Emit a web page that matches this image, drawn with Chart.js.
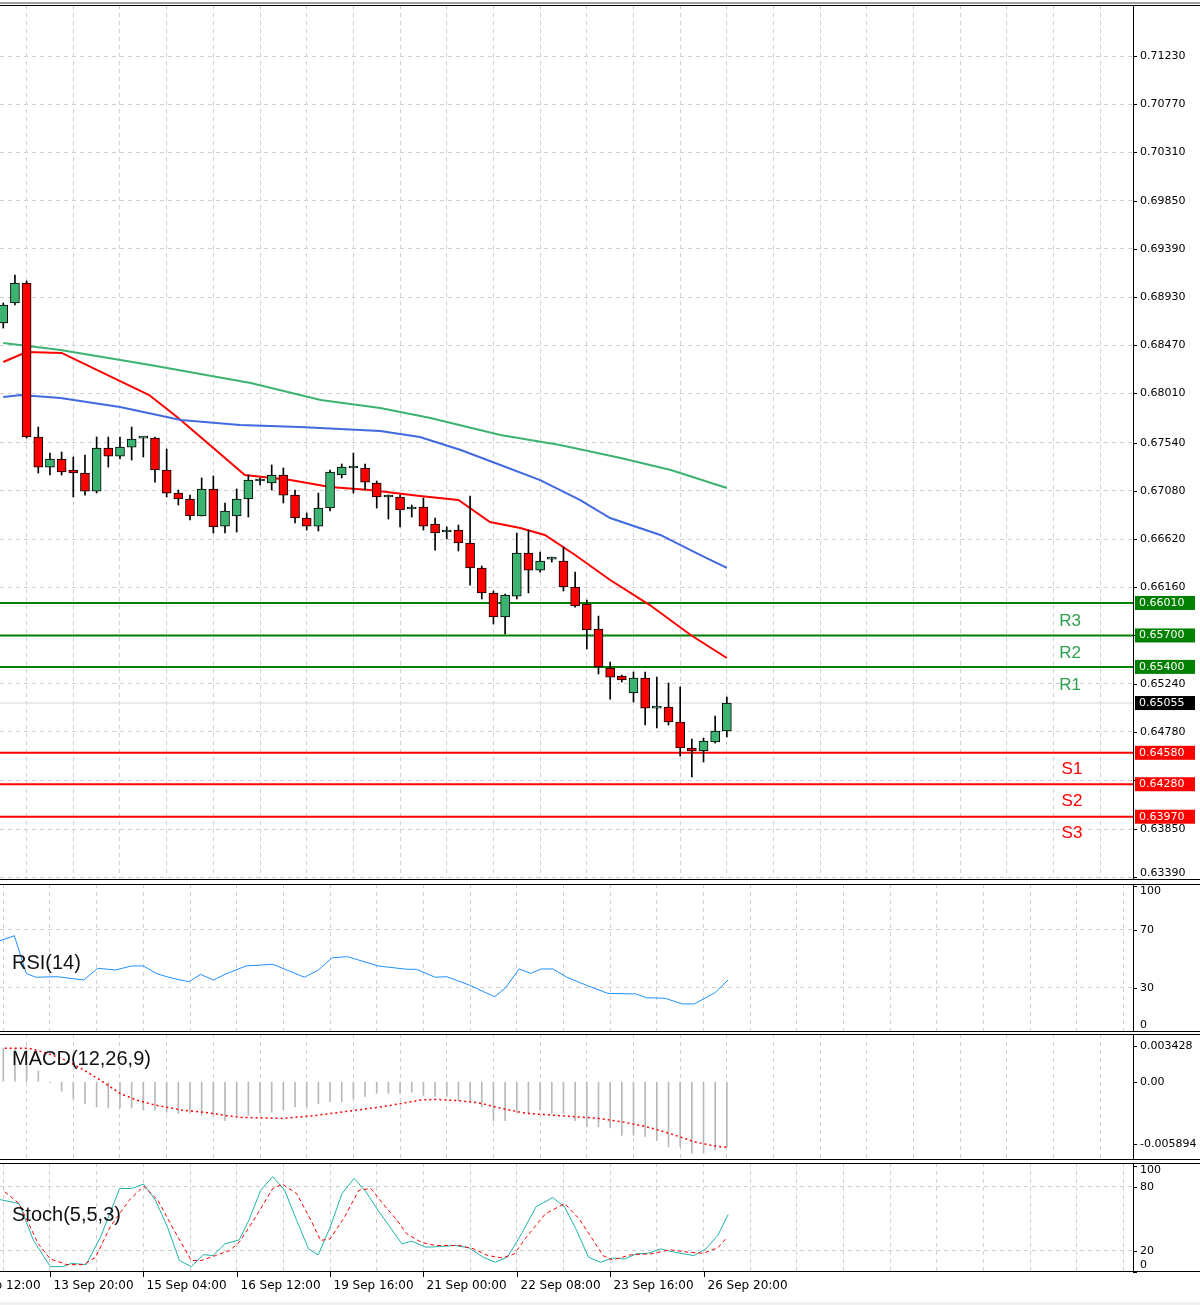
<!DOCTYPE html>
<html><head><meta charset="utf-8">
<script src="https://cdn.jsdelivr.net/npm/chart.js@4.4.0/dist/chart.umd.min.js"></script>
<style>
html,body{margin:0;padding:0;background:#fff;width:1200px;height:1305px;overflow:hidden;}
.c{position:absolute;left:0;width:1200px;overflow:hidden;}
canvas{display:block;}
#topline{position:absolute;left:0;top:2px;width:1200px;height:2px;background:#a0a0a0;}
</style></head><body>
<div id="topline"></div>
<div class="c" style="top:5px;height:875px"><canvas id="main" width="1200" height="875"></canvas></div>
<div class="c" style="top:884px;height:148px"><canvas id="rsi" width="1200" height="148"></canvas></div>
<div class="c" style="top:1034px;height:126px"><canvas id="macd" width="1200" height="126"></canvas></div>
<div class="c" style="top:1163px;height:142px"><canvas id="stoch" width="1200" height="142"></canvas></div>
<script>
// ---------- DATA ----------
const opens=[0.68682,0.68873,0.69064,0.67594,0.67307,0.67384,0.67279,0.67250,0.67078,0.67489,
0.67412,0.67498,0.67584,0.67584,0.67279,0.67059,0.67002,0.66840,0.67098,0.66744,
0.66840,0.67002,0.67174,0.67155,0.67231,0.67040,0.66821,0.66744,0.66916,0.67231,
0.67298,0.67298,0.67155,0.67021,0.67021,0.66907,0.66926,0.66763,0.66687,0.66706,
0.66582,0.66344,0.66105,0.65876,0.66076,0.66487,0.66324,0.66429,0.66410,0.66162,
0.66000,0.65761,0.65389,0.65313,0.65151,0.65294,0.65007,0.65017,0.64874,0.64626,
0.64597,0.64683,0.64788];
const closes=[0.68854,0.69064,0.67594,0.67307,0.67384,0.67260,0.67250,0.67078,0.67489,0.67412,
0.67498,0.67575,0.67584,0.67279,0.67059,0.67002,0.66840,0.67098,0.66735,0.66888,
0.67002,0.67183,0.67174,0.67231,0.67040,0.66821,0.66744,0.66916,0.67260,0.67307,
0.67298,0.67164,0.67021,0.67021,0.66897,0.66926,0.66744,0.66678,0.66687,0.66582,
0.66344,0.66105,0.65876,0.66086,0.66487,0.66324,0.66410,0.66429,0.66162,0.65981,
0.65752,0.65399,0.65303,0.65275,0.65294,0.65007,0.65007,0.64874,0.64626,0.64597,
0.64692,0.64788,0.65055];
const highs=[0.68873,0.69140,0.69083,0.67689,0.67441,0.67451,0.67403,0.67422,0.67594,0.67594,
0.67594,0.67689,0.67594,0.67594,0.67479,0.67088,0.67040,0.67203,0.67222,0.66964,
0.67098,0.67231,0.67203,0.67327,0.67298,0.67088,0.66869,0.67059,0.67279,0.67336,
0.67441,0.67336,0.67174,0.67040,0.67040,0.66945,0.67012,0.66821,0.66735,0.66754,
0.67031,0.66363,0.66124,0.66095,0.66678,0.66706,0.66496,0.66448,0.66544,0.66305,
0.66038,0.65885,0.65446,0.65322,0.65351,0.65351,0.65303,0.65246,0.65208,0.64712,
0.64721,0.64931,0.65112];
const lows=[0.68634,0.68854,0.67584,0.67250,0.67231,0.67231,0.67021,0.67040,0.67059,0.67307,
0.67384,0.67374,0.67403,0.67164,0.67021,0.66945,0.66802,0.66840,0.66678,0.66678,
0.66687,0.66830,0.67136,0.67088,0.66964,0.66774,0.66706,0.66697,0.66888,0.67203,
0.67059,0.67088,0.66916,0.66811,0.66735,0.66830,0.66706,0.66515,0.66620,0.66506,
0.66181,0.66048,0.65809,0.65714,0.66048,0.66105,0.66305,0.66400,0.66124,0.65971,
0.65570,0.65332,0.65093,0.65255,0.65065,0.64845,0.64817,0.64845,0.64549,0.64349,
0.64492,0.64673,0.64731];
// moving averages: [candle index, value]
const maRed=[[0,0.68310],[2,0.68405],[5,0.68396],[12.5,0.67995],[15,0.67775],[20.7,0.67231],[24.6,0.67183],[28,0.67117],[31.4,0.67088],[35.7,0.67031],[39,0.66993],[41.7,0.66783],[44.3,0.66725],[46.4,0.66659],[49,0.66468],[52,0.66229],[55.4,0.65990],[58.9,0.65704],[62,0.65485]];
const maGreen=[[0,0.68491],[4.9,0.68424],[12.6,0.68281],[21.2,0.68109],[27.2,0.67947],[32.3,0.67870],[36.6,0.67775],[42.6,0.67613],[47.7,0.67517],[52.9,0.67393],[57.2,0.67279],[62,0.67107]];
const maBlue=[[0,0.67976],[1.5,0.67995],[4.9,0.67966],[10,0.67880],[15.2,0.67756],[20.3,0.67708],[25.4,0.67689],[32.3,0.67651],[35.7,0.67594],[39.2,0.67470],[42.6,0.67327],[46,0.67183],[49.4,0.66993],[52,0.66821],[56.3,0.66659],[59.7,0.66468],[62,0.66344]];
const resistances=[0.66010,0.65700,0.65400];
const resNames=["R3","R2","R1"];
const supports=[0.64580,0.64280,0.63970];
const supNames=["S1","S2","S3"];
const currentPrice=0.65055;
const priceTicks=[0.71230,0.70770,0.70310,0.69850,0.69390,0.68930,0.68470,0.68010,0.67540,0.67080,0.66620,0.66160,0.65700,0.65240,0.64780,0.64320,0.63850,0.63390];
const rsiPts=[[-0.28,62.6],[0.95,66],[1.97,40],[2.8,37.4],[4.6,37.8],[6.9,35.5],[8.1,43.6],[9.6,42.4],[11,45.2],[12,45.2],[13.2,39.7],[14.5,36.7],[15.9,34.3],[16.9,39.4],[18,35.5],[19,39.4],[20.8,45.2],[23.1,46.3],[24.3,42.4],[25.8,37.4],[27,42.4],[28.2,50.9],[29.5,51.6],[32.1,45.2],[34.6,42.9],[35.4,42.9],[37,37.4],[38,37.8],[39.9,32.1],[42.1,24],[43,29.8],[44.2,43.1],[45.2,40.1],[46.1,43.1],[47.1,43.1],[48.3,37.4],[49.9,32.1],[51.8,26.3],[54.2,25.9],[55.1,23.3],[56.7,22.9],[58.2,19],[59.2,19],[61,26.8],[62.1,35.5]];
const rsiTicks=[100,70,30,0];
const macdHist=[0.0032,0.0032,0.0030,0.0010,-0.0001,-0.0009,-0.0016,-0.0021,-0.0024,-0.0025,
-0.0025,-0.0025,-0.0027,-0.0027,-0.0029,-0.0030,-0.0030,-0.0032,-0.0032,-0.0037,
-0.0033,-0.0032,-0.0030,-0.0029,-0.0027,-0.0024,-0.0024,-0.0021,-0.0019,-0.0019,
-0.0016,-0.0014,-0.0011,-0.0011,-0.0011,-0.0010,-0.0013,-0.0014,-0.0014,-0.0018,
-0.0018,-0.0024,-0.0037,-0.0037,-0.0030,-0.0030,-0.0027,-0.0030,-0.0030,-0.0037,
-0.0043,-0.0043,-0.0044,-0.0051,-0.0051,-0.0052,-0.0056,-0.0062,-0.0062,-0.0068,
-0.0068,-0.0065,-0.0062];
const macdSignal=[[0.13,0.00318],[2.2,0.00318],[3.8,0.00270],[5.3,0.00207],[6.9,0.00111],[8.3,0.00016],[10,-0.00111],[11.4,-0.00174],[13,-0.00222],[15.3,-0.00270],[17.3,-0.00292],[20.2,-0.00339],[23.9,-0.00349],[26.4,-0.00326],[29.2,-0.00286],[32.5,-0.00238],[35.8,-0.00174],[37,-0.00168],[39.1,-0.00181],[40.7,-0.00200],[42.7,-0.00254],[44.8,-0.00301],[48.1,-0.00326],[51,-0.00349],[53,-0.00381],[55.1,-0.00428],[57.1,-0.00492],[59.2,-0.00571],[60.8,-0.00609],[62,-0.00625]];
const macdTicks=[0.003428,0,-0.005894];
const stochMain=[[-0.28,68],[1.36,64.2],[2.59,29.5],[4.03,4.9],[5.05,4.9],[5.87,8],[7.1,6.8],[8.33,32.7],[9.97,78.4],[10.99,78.4],[12.02,82.5],[13.04,67.4],[14.07,42.1],[15.1,10.6],[16.12,4.9],[17.15,16.2],[17.97,15.3],[18.99,26.3],[20.22,30.1],[21.04,48.4],[22.06,76.8],[23.09,89.5],[24.11,76.8],[25.14,48.4],[26.16,21.6],[26.98,15.9],[28.01,42.1],[29.03,73.7],[30.06,87.9],[31.08,75.3],[32.11,57.9],[33.14,42.1],[34.16,26.3],[34.98,28.9],[36.21,23.2],[37.44,23.8],[38.67,24.8],[39.9,22.6],[41.13,13.7],[42.16,9],[43.18,13.7],[44.41,35.8],[45.64,61.1],[47.08,69.9],[48.1,61.1],[49.13,39],[50.15,13.7],[51.18,9],[52.2,13.1],[53.23,12.1],[54.25,16.9],[55.28,17.5],[56.3,21.6],[57.53,18.4],[59.17,15.3],[60.2,21.6],[61.22,34.2],[62.12,54.1]];
const stochSignal=[[0.13,75.3],[1.36,64.2],[3,26.3],[4.03,12.1],[5.46,6.8],[6.9,6.8],[7.92,13.7],[9.15,42.1],[10.79,67.4],[12.02,80.6],[13.25,67.4],[14.48,42.1],[16.12,10.6],[16.94,10.6],[18.17,15.3],[19.4,20],[20.22,27.9],[21.45,48.4],[23.09,78.4],[23.91,82.5],[25.14,73.7],[26.37,48.4],[27.19,29.5],[28.01,31.1],[29.24,51.6],[30.47,76.8],[31.5,78.4],[32.52,64.2],[33.75,48.4],[34.57,35.8],[35.8,27.9],[37.03,24.8],[39.08,24.8],[40.31,21.6],[41.54,15.3],[42.77,13.1],[43.8,16.9],[44.82,32.7],[46.46,54.7],[48.1,64.2],[49.33,50],[50.56,29.5],[51.38,15.3],[52.2,11.2],[53.84,16.2],[55.48,16.9],[57.12,20.7],[58.76,18.4],[59.99,17.5],[61.22,22.6],[62.04,32.7]];
const stochTicks=[100,80,20,0];
const timeLabels=["13 Sep 12:00","13 Sep 20:00","15 Sep 04:00","16 Sep 12:00","19 Sep 16:00","21 Sep 00:00","22 Sep 08:00","23 Sep 16:00","26 Sep 20:00"];
const timeIdx=[-4,4,12,20,28,36,44,52,60];

// ---------- HELPERS ----------
const XMIN=-0.28, XMAX=96.8;
const GREEN='#3CB371', RED='#FF0000';
const FONT='"DejaVu Sans", sans-serif';
function xScale(){return {type:'linear',min:XMIN,max:XMAX,offset:false,
  afterBuildTicks:s=>{const t=[];for(let v=0;v<=96;v+=4)t.push({value:v});s.ticks=t;},
  ticks:{display:false},grid:{color:'#cfcfcf',drawTicks:false},border:{display:false,dash:[4,4]},
  afterFit:s=>{s.height=0;}};}
function yScale(min,max,ticks,gridTicks){return {type:'linear',position:'right',min:min,max:max,
  afterBuildTicks:s=>{s.ticks=ticks.map(v=>({value:v}));},
  afterFit:s=>{s.width=67;},
  ticks:{display:false},
  grid:{color:c=>(gridTicks&&!gridTicks.includes(c.tick&&c.tick.value))?'rgba(0,0,0,0)':'#cfcfcf',drawTicks:false},
  border:{display:false,dash:[4,4]}};}
function pts(a){return a.map(p=>({x:p[0],y:p[1]}));}
const frame={id:'frame',afterDraw(ch,args,opts){
  const c=ch.ctx,a=ch.chartArea,y=ch.scales.y;
  c.save();
  c.strokeStyle='#000';c.lineWidth=1;
  c.beginPath();c.moveTo(a.right+0.5,a.top);c.lineTo(a.right+0.5,a.bottom);c.stroke();
  c.beginPath();c.moveTo(0,a.top+0.5);c.lineTo(1200,a.top+0.5);c.stroke();
  c.beginPath();c.moveTo(0,a.bottom-0.5);c.lineTo(1200,a.bottom-0.5);c.stroke();
  c.font='11px '+FONT;c.fillStyle='#000';c.textBaseline='middle';c.textAlign='left';
  (opts.ticks||[]).forEach(v=>{const py=Math.round(y.getPixelForValue(v))+0.5;
    c.beginPath();c.moveTo(a.right,py);c.lineTo(a.right+4,py);c.stroke();
    if(opts.hide&&opts.hide.includes(v))return;
    let py2=Math.min(Math.max(py,a.top+7),a.bottom-7);
    c.fillText(opts.fmt(v),a.right+7,py2);});
  if(opts.title){c.font='20px "Liberation Sans", Arial, sans-serif';c.fillStyle='#111';c.textBaseline='alphabetic';
    c.fillText(opts.title,12,opts.titleY);}
  c.restore();}};
const common={responsive:false,animation:false,maintainAspectRatio:false,devicePixelRatio:1,
  plugins:{legend:{display:false},tooltip:{enabled:false}},layout:{padding:0}};

// ---------- MAIN ----------
const idx=opens.map((_,i)=>i);
const bodyColors=opens.map((o,i)=>closes[i]>=o?GREEN:RED);
const levelPlugin={id:'levels',afterDraw(ch){
  const c=ch.ctx,a=ch.chartArea,y=ch.scales.y;c.save();
  c.font='11px '+FONT;c.textBaseline='middle';c.textAlign='left';
  const box=(v,bg)=>{const py=y.getPixelForValue(v);c.fillStyle=bg;c.fillRect(a.right+2,py-7,60,14);
    c.fillStyle='#fff';c.fillText(v.toFixed(5),a.right+6,py);};
  resistances.forEach(v=>box(v,'#008000'));supports.forEach(v=>box(v,RED));box(currentPrice,'#000');
  c.font='17px "Liberation Sans", Arial, sans-serif';c.textAlign='center';
  resistances.forEach((v,i)=>{c.fillStyle='#2E9E4F';c.fillText(resNames[i],1070,y.getPixelForValue(v)+18);});
  supports.forEach((v,i)=>{c.fillStyle=RED;c.fillText(supNames[i],1072,y.getPixelForValue(v)+17);});
  c.restore();}};
function hline(v,color,w){return {type:'line',data:[{x:XMIN,y:v},{x:XMAX,y:v}],borderColor:color,borderWidth:w,pointRadius:0,order:5};}
new Chart(document.getElementById('main'),{type:'bar',
  data:{datasets:[
    hline(currentPrice,'#d8d8d8',1),
    ...resistances.map(v=>hline(v,'#008000',2)),
    ...supports.map(v=>hline(v,RED,2)),
    {type:'line',data:pts(maGreen),borderColor:GREEN,borderWidth:2,pointRadius:0,order:3},
    {type:'line',data:pts(maBlue),borderColor:'#4169E1',borderWidth:2,pointRadius:0,order:3},
    {type:'line',data:pts(maRed),borderColor:RED,borderWidth:2,pointRadius:0,order:3},
    {data:idx.map(i=>({x:i,y:[lows[i],highs[i]]})),backgroundColor:'#000',barThickness:1,grouped:false,order:2},
    {data:idx.map(i=>({x:i,y:[opens[i],closes[i]]})),backgroundColor:bodyColors,borderColor:'#000',borderWidth:1,borderSkipped:false,barThickness:9,minBarLength:2,grouped:false,order:1}
  ]},
  options:{...common,scales:{x:xScale(),y:yScale(0.63366,0.71717,priceTicks)},
    plugins:{...common.plugins,frame:{ticks:priceTicks,hide:[0.65700,0.64320],fmt:v=>v.toFixed(5)}}},
  plugins:[frame,levelPlugin]});

// ---------- RSI ----------
new Chart(document.getElementById('rsi'),{type:'line',
  data:{datasets:[{data:pts(rsiPts),borderColor:'#1E90FF',borderWidth:1,pointRadius:0}]},
  options:{...common,scales:{x:xScale(),y:yScale(-0.34,101.7,rsiTicks,[30,70])},
    plugins:{...common.plugins,frame:{ticks:rsiTicks,fmt:v=>String(v),title:'RSI(14)',titleY:85}}},
  plugins:[frame]});

// ---------- MACD ----------
new Chart(document.getElementById('macd'),{type:'bar',
  data:{datasets:[
    {type:'line',data:pts(macdSignal),borderColor:RED,borderWidth:1.5,borderDash:[2,3],pointRadius:0,order:1},
    {data:idx.map(i=>({x:i,y:macdHist[i]})),backgroundColor:'#b8b8b8',barThickness:1,order:2}]},
  options:{...common,scales:{x:xScale(),y:yScale(-0.00745,0.00454,macdTicks,[])},
    plugins:{...common.plugins,frame:{ticks:macdTicks,fmt:v=>v===0?'0.00':v.toFixed(6),title:'MACD(12,26,9)',titleY:31}}},
  plugins:[frame]});

// ---------- STOCH ----------
const timePlugin={id:'times',afterDraw(ch){
  const c=ch.ctx,a=ch.chartArea,x=ch.scales.x;c.save();
  c.font='12px '+FONT;c.fillStyle='#000';c.textBaseline='middle';c.textAlign='left';c.strokeStyle='#000';
  timeIdx.forEach((t,i)=>{const px=Math.round(x.getPixelForValue(t))+0.5;
    c.beginPath();c.moveTo(px,a.bottom);c.lineTo(px,a.bottom+5);c.stroke();
    c.fillText(timeLabels[i],px+3,a.bottom+14);});
  c.fillStyle='#f0f0f0';c.fillRect(0,a.bottom+30,1200,20);
  c.restore();}};
new Chart(document.getElementById('stoch'),{type:'line',
  data:{datasets:[
    {data:pts(stochSignal),borderColor:RED,borderWidth:1,borderDash:[4,3],pointRadius:0},
    {data:pts(stochMain),borderColor:'#20B2AA',borderWidth:1,pointRadius:0}]},
  options:{...common,layout:{padding:{bottom:33}},scales:{x:xScale(),y:yScale(-0.15,102.4,stochTicks,[20,80])},
    plugins:{...common.plugins,frame:{ticks:stochTicks,fmt:v=>String(v),title:'Stoch(5,5,3)',titleY:58}}},
  plugins:[frame,timePlugin]});
</script>
</body></html>
